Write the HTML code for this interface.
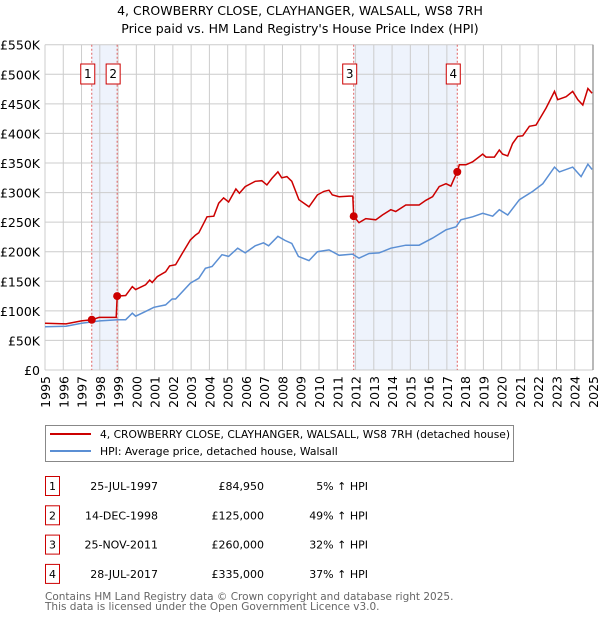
<!DOCTYPE html>
<html><head><meta charset="utf-8">
<style>
body{margin:0;background:#fff;font-family:"DejaVu Sans","Liberation Sans",sans-serif;}
#wrap{position:relative;width:600px;height:620px;overflow:hidden;}
svg text{font-family:"DejaVu Sans","Liberation Sans",sans-serif;}
</style></head>
<body><div id="wrap">
<svg id="svg" width="600" height="620" xmlns="http://www.w3.org/2000/svg"></svg>
</div>
<script>
const tickValues=[0,50,100,150,200,250,300,350,400,450,500,550];
const tickLabels=["£0","£50K","£100K","£150K","£200K","£250K","£300K","£350K","£400K","£450K","£500K","£550K"];
const yearLabels=[1995,1996,1997,1998,1999,2000,2001,2002,2003,2004,2005,2006,2007,2008,2009,2010,2011,2012,2013,2014,2015,2016,2017,2018,2019,2020,2021,2022,2023,2024,2025];
const saleYears=[1997.56,1998.95,2011.9,2017.57];
const saleValues=[84.95,125,260,335];
const saleIds=["1","2","3","4"];
const saleDates=["25-JUL-1997","14-DEC-1998","25-NOV-2011","28-JUL-2017"];
const salePrices=["£84,950","£125,000","£260,000","£335,000"];
const saleHpi=["5% ↑ HPI","49% ↑ HPI","32% ↑ HPI","37% ↑ HPI"];
const redYears=[1995,1996.15,1997,1997.56,1997.96,1998.9,1998.95,1999.42,1999.78,1999.96,2000.51,2000.73,2000.87,2001.15,2001.6,2001.82,2002.15,2002.51,2002.96,2003.24,2003.42,2003.69,2003.87,2004.24,2004.51,2004.78,2005.05,2005.45,2005.64,2005.96,2006.51,2006.87,2007.15,2007.42,2007.75,2007.96,2008.24,2008.51,2008.9,2009.45,2009.91,2010.27,2010.55,2010.73,2011.1,2011.65,2011.85,2011.9,2012.19,2012.56,2013.11,2013.47,2013.93,2014.2,2014.75,2015.48,2015.85,2016.22,2016.58,2016.95,2017.22,2017.4,2017.57,2017.68,2018.04,2018.41,2018.96,2019.14,2019.6,2019.87,2020.05,2020.33,2020.6,2020.88,2021.15,2021.52,2021.88,2022.43,2022.89,2023.07,2023.53,2023.89,2024.17,2024.44,2024.72,2024.95];
const redValues=[79,78,83,84.95,89,89,125,126,141,136,144,152,148,158,166,176,178,197,220,228,232,248,259,260,282,291,284,306,299,310,319,320,313,324,335,325,327,319,288,276,296,302,304,296,293,294,294,260,249,256,254,262,271,268,279,279,287,293,310,315,311,324,335,347,347,352,365,360,360,372,365,362,383,395,396,412,414,443,471,457,462,471,457,448,476,468];
const blueYears=[1995,1996.15,1997,1998,1999,1999.42,1999.78,1999.96,2000.51,2000.96,2001.6,2001.96,2002.15,2002.96,2003.42,2003.78,2004.15,2004.69,2005.05,2005.55,2005.96,2006.51,2006.96,2007.24,2007.75,2008.15,2008.51,2008.87,2009.45,2009.91,2010.55,2011.1,2011.83,2012.19,2012.74,2013.29,2013.93,2014.75,2015.48,2016.22,2016.95,2017.5,2017.77,2018.41,2018.96,2019.51,2019.87,2020.33,2020.97,2021.7,2022.25,2022.89,2023.16,2023.89,2024.35,2024.72,2024.95];
const blueValues=[73,74,79,83,85,85,96,91,99,106,110,120,120,147,155,172,175,195,192,206,198,210,215,210,226,219,214,192,185,200,203,194,196,189,197,198,206,211,211,223,237,242,254,259,265,260,271,262,288,302,315,343,335,343,327,348,339];

const NS="http://www.w3.org/2000/svg";
const svg=document.getElementById('svg');
const L=45,R=593,T=44.7,B=370;
const xS=y=>L+(y-1995)*(R-L)/30;
const yS=v=>B-v*(B-T)/550;
function el(tag,attrs,parent){const e=document.createElementNS(NS,tag);for(const k in attrs)e.setAttribute(k,attrs[k]);(parent||svg).appendChild(e);return e;}
function txt(s,attrs){const e=el('text',attrs);e.textContent=s;return e;}

let t1=txt("4, CROWBERRY CLOSE, CLAYHANGER, WALSALL, WS8 7RH",{x:300,y:15,'text-anchor':'middle','font-size':12.5});


let t2=txt("Price paid vs. HM Land Registry's House Price Index (HPI)",{x:300,y:33,'text-anchor':'middle','font-size':12.5});



[[0,1],[2,3]].forEach(([a,b])=>{
  const r=el('rect',{x:xS(saleYears[a]),y:T,width:xS(saleYears[b])-xS(saleYears[a]),height:B-T,fill:'#eef3fc'});
  
  
});
tickValues.forEach((v,i)=>{
  const g=el('line',{x1:L,x2:R,y1:yS(v),y2:yS(v),stroke:'#cccccc','stroke-width':1});
  
  
  const lb=txt(tickLabels[i],{x:40,y:yS(v)+5,'text-anchor':'end','font-size':12.5});
  
  
});
yearLabels.forEach(yr=>{
  const g=el('line',{x1:xS(yr),x2:xS(yr),y1:T,y2:B,stroke:'#cccccc','stroke-width':1});
  
  
  const lb=txt(String(yr),{x:0,y:0,'text-anchor':'end','font-size':12.5,transform:`translate(${xS(yr)+5},${B+6}) rotate(-90)`});
  
  
});
const endLine=el('line',{x1:R,x2:R,y1:T,y2:B,stroke:'#888','stroke-width':1.2});



saleYears.forEach((y,i)=>{
  const d=el('line',{x1:xS(y),x2:xS(y),y1:T,y2:B,stroke:'#e06060','stroke-width':1,'stroke-dasharray':'2,2'});
  
  
  const bx=el('rect',{x:xS(y)-11,y:64,width:14,height:20,fill:'#fff',stroke:'#cc0000','stroke-width':1});
  
  
  const tt=txt(saleIds[i],{x:xS(y)-4,y:78,'text-anchor':'middle','font-size':12});
  
  
});

function pathFrom(xs,vs){return xs.map((x,i)=>(i?'L':'M')+xS(x).toFixed(1)+','+yS(vs[i]).toFixed(1)).join(' ');}
const bl=el('path',{d:pathFrom(blueYears,blueValues),fill:'none',stroke:'#5b8fd4','stroke-width':1.5});


const rl=el('path',{d:pathFrom(redYears,redValues),fill:'none',stroke:'#cc0000','stroke-width':1.5});


saleYears.forEach((y,i)=>{
  const c=el('circle',{cx:xS(y),cy:yS(saleValues[i]),r:4,fill:'#cc0000'});
  
  
});

const lg=el('rect',{x:45.5,y:425.5,width:468,height:36,fill:'#fff',stroke:'#888','stroke-width':1});


const l1=el('line',{x1:50,x2:91,y1:434,y2:434,stroke:'#cc0000','stroke-width':2});


const l2=el('line',{x1:50,x2:91,y1:451,y2:451,stroke:'#5b8fd4','stroke-width':2});


const lt1=txt("4, CROWBERRY CLOSE, CLAYHANGER, WALSALL, WS8 7RH (detached house)",{x:100,y:438,'font-size':10.8,textLength:410,lengthAdjust:'spacingAndGlyphs'});


const lt2=txt("HPI: Average price, detached house, Walsall",{x:100,y:455,'font-size':10.8});



saleIds.forEach((id,i)=>{
  const yy=486+i*29.3;
  const b=el('rect',{x:45.5,y:yy-9.5,width:14,height:19,fill:'#fff',stroke:'#cc0000','stroke-width':1});
  
  
  const a=txt(id,{x:52.5,y:yy+4,'text-anchor':'middle','font-size':11});
  
  
  const d=txt(saleDates[i],{x:158,y:yy+4,'text-anchor':'end','font-size':11});
  
  
  const p=txt(salePrices[i],{x:264,y:yy+4,'text-anchor':'end','font-size':11});
  
  
  const h=txt(saleHpi[i],{x:368,y:yy+4,'text-anchor':'end','font-size':11});
  
  
});
const f1=txt("Contains HM Land Registry data © Crown copyright and database right 2025.",{x:45,y:600,'font-size':10.5,fill:'#666'});


const f2=txt("This data is licensed under the Open Government Licence v3.0.",{x:45,y:610,'font-size':10.5,fill:'#666'});


</script>
</body></html>
